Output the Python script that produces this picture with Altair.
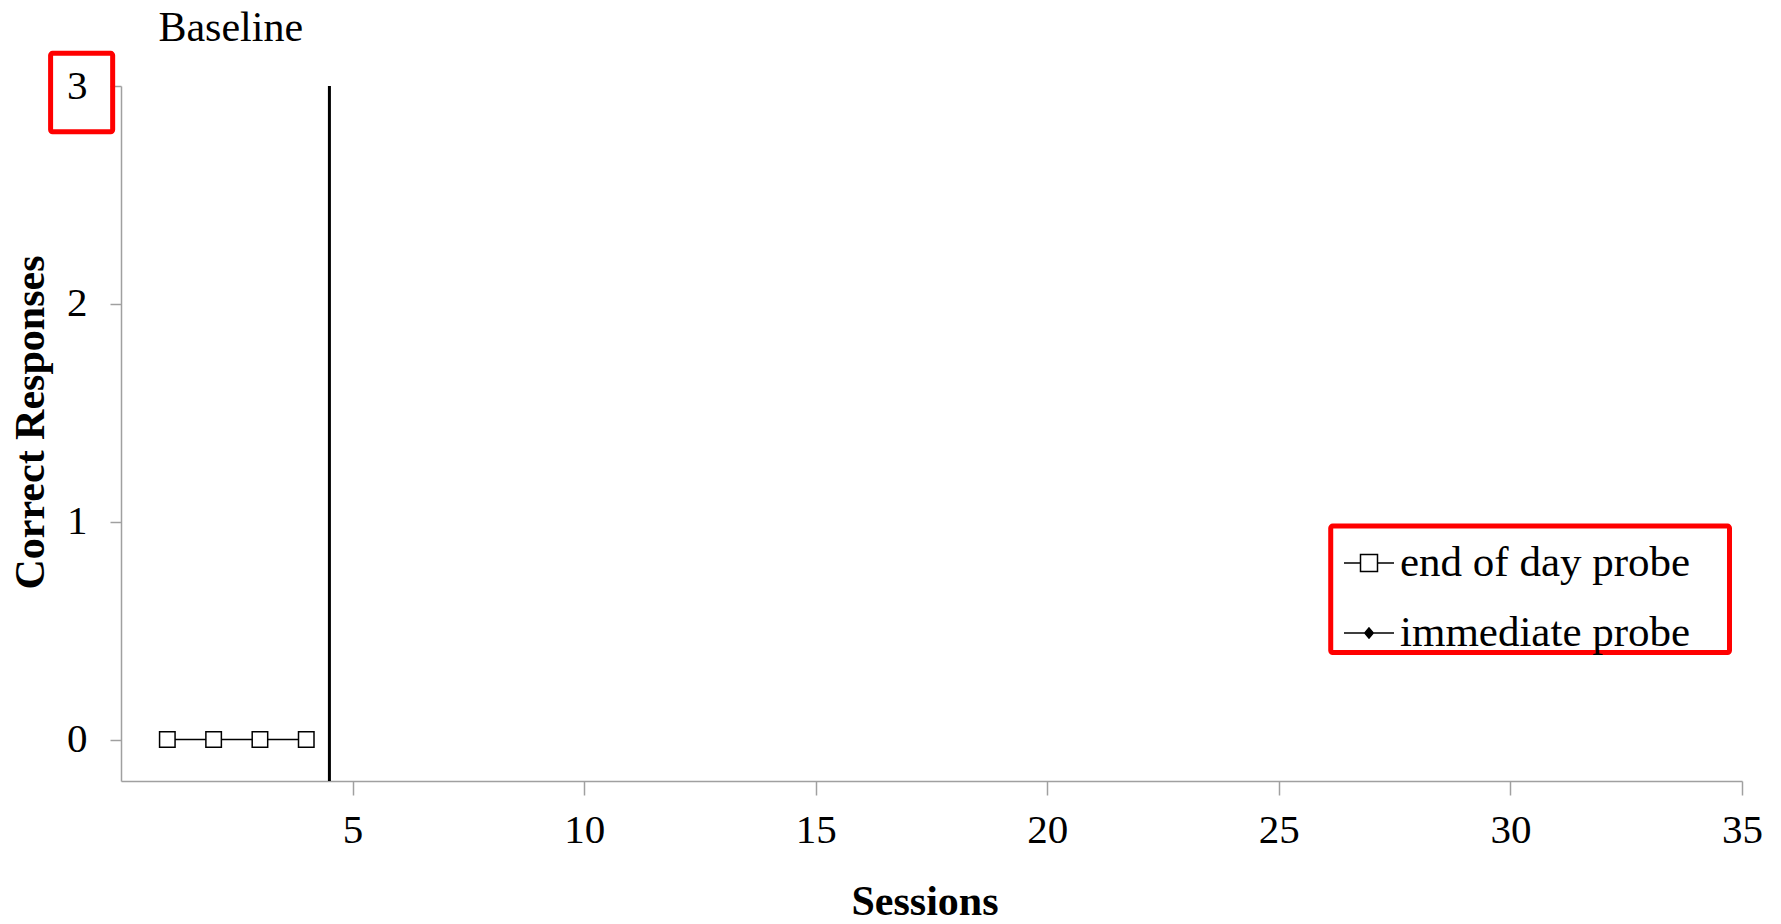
import altair as alt
import pandas as pd

# ---- data ----
sessions = [1, 2, 3, 4]
end_of_day = [0, 0, 0, 0]
series_names = ["end of day probe", "immediate probe"]
phase_change_x = [4.5]
phase_labels = ["Baseline"]
phase_label_x = [2.37]
x_ticks = [5, 10, 15, 20, 25, 30, 35]
y_ticks = [0, 1, 2, 3]
# red highlight boxes, in data units
box_x0 = [-1.52, 26.12]
box_x1 = [-0.18, 34.73]
box_y0 = [3.15, 0.98]
box_y1 = [2.79, 0.40]

FONT = "Liberation Serif"
W, H = 1621, 695

points = pd.DataFrame({"Sessions": sessions, "Correct": end_of_day,
                       "series": [series_names[0]] * len(sessions)})
phase = pd.DataFrame({"px": phase_change_x})
labels = pd.DataFrame({"lx": phase_label_x, "label": phase_labels})
boxes = pd.DataFrame({"x0": box_x0, "x1": box_x1, "y0": box_y0, "y1": box_y1})
legend_df = pd.DataFrame({"series": series_names})

x_scale = alt.Scale(domain=[0, 35], nice=False, zero=False)
y_scale = alt.Scale(domain=[-0.19, 3], nice=False, zero=False)

x_axis = alt.Axis(values=x_ticks, title="Sessions", grid=False, tickSize=14,
                  labelPadding=15, titlePadding=31, titleX=W / 2 - 7,
                  labelFontSize=41, titleFontSize=42, labelFont=FONT,
                  titleFont=FONT, titleFontWeight="bold", labelColor="black",
                  titleColor="black", domainColor="#a0a0a0", tickColor="#a0a0a0",
                  domainWidth=1.5, tickWidth=1.5, labelFlush=False)
y_axis = alt.Axis(values=y_ticks, title="Correct Responses", grid=False, tickSize=11,
                  labelPadding=23, titlePadding=14, titleY=H / 2 - 11.5,
                  labelFontSize=41, titleFontSize=42, labelFont=FONT,
                  titleFont=FONT, titleFontWeight="bold", labelColor="black",
                  titleColor="black", domainColor="#a0a0a0", tickColor="#a0a0a0",
                  domainWidth=1.5, tickWidth=1.5)


def X(field):
    return alt.X(field, type="quantitative", scale=x_scale, axis=x_axis)


def Y(field):
    return alt.Y(field, type="quantitative", scale=y_scale, axis=y_axis)


line = alt.Chart(points).mark_line(color="black", strokeWidth=1.5).encode(
    x=X("Sessions"), y=Y("Correct"))

pts = alt.Chart(points).mark_point(shape="square", filled=True, fill="white",
                                   stroke="black", strokeWidth=1.5, size=240,
                                   opacity=1).encode(
    x=X("Sessions"), y=Y("Correct"))

rule = alt.Chart(phase).mark_rule(color="black", strokeWidth=3).encode(
    x=X("px"), y=alt.value(0), y2=alt.value(H))

txt = alt.Chart(labels).mark_text(font=FONT, fontSize=42, color="black",
                                  baseline="alphabetic", align="center").encode(
    x=X("lx"), y=alt.value(-45), text="label:N")

rects = alt.Chart(boxes).mark_rect(fillOpacity=0, stroke="#ff0000",
                                   strokeWidth=5, cornerRadius=2).encode(
    x=X("x0"), x2="x1", y=Y("y0"), y2="y1")

sym_square = "M-1,0H-0.34M0.34,0H1M-0.34,-0.34H0.34V0.34H-0.34Z"
sym_diamond = "M-1,0H1M0,-0.2L0.17,0L0,0.2L-0.17,0Z"
leg = alt.Legend(title=None, orient="none", legendX=1222, legendY=451,
                 padding=0, labelFont=FONT, labelFontSize=43, labelColor="black",
                 labelOffset=5, labelLimit=500, symbolSize=2500,
                 symbolStrokeWidth=1.5, symbolOpacity=1, rowPadding=22)
legend_layer = alt.Chart(legend_df).transform_filter("false").mark_point(
    filled=True, strokeWidth=1.5, size=2500, opacity=1).encode(
    shape=alt.Shape("series:N", scale=alt.Scale(domain=series_names,
                                                range=[sym_square, sym_diamond]),
                    legend=leg),
    fill=alt.Fill("series:N", scale=alt.Scale(domain=series_names,
                                              range=["white", "black"]),
                  legend=leg),
    stroke=alt.Stroke("series:N", scale=alt.Scale(domain=series_names,
                                                  range=["black", "black"]),
                      legend=leg))

chart = alt.layer(rule, line, pts, txt, rects, legend_layer).properties(
    width=W, height=H,
    autosize=alt.AutoSizeParams(type="none"),
    padding={"left": 113, "top": 78, "right": 30, "bottom": 140},
    background="white",
).configure_view(stroke=None)

chart.save("out.html", embed_options={"renderer": "svg", "actions": False})
